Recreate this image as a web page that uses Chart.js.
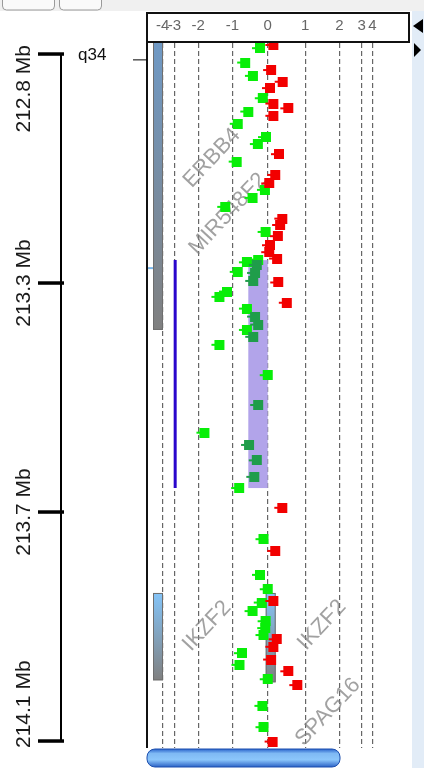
<!DOCTYPE html>
<html>
<head>
<meta charset="utf-8">
<title>chr2 q34 probe ratios</title>
<script src="https://cdn.jsdelivr.net/npm/chart.js@4.4.1/dist/chart.umd.min.js"></script>
<style>
  html, body { margin: 0; padding: 0; background: #fff; }
  #wrap { position: relative; width: 424px; height: 768px; }
</style>
</head>
<body>
<div id="wrap"><canvas id="ratioChart"></canvas></div>
<script>
// log ratio axis ticks
const ratioTicks = [-4, -3, -2, -1, 0, 1, 2, 3, 4];
// where each tick sits on the squashed display axis (compressed past +-2)
const squashKnots = [-2.92, -2.59, -1.93, -0.98, 0, 1.04, 1.99, 2.61, 2.91];

// genome position ticks (Mb)
const mbTicks = [212.84, 213.27, 213.70, 214.13];

// probes above zero (red)
const gainPos = [212.823, 212.870, 212.892, 212.904, 212.933, 212.942, 212.956, 213.028, 213.067, 213.083,
  213.149, 213.161, 213.182, 213.199, 213.212, 213.224, 213.269, 213.307, 213.692, 213.773,
  213.867, 213.939, 213.953, 213.977, 213.999, 214.025, 214.131];
const gainRatio = [0.15, 0.09, 0.40, 0.06, 0.15, 0.55, 0.15, 0.30, 0.20, 0.04,
  0.39, 0.33, 0.27, 0.06, 0.04, 0.25, 0.28, 0.51, 0.39, 0.20,
  0.15, 0.24, 0.15, 0.09, 0.55, 0.79, 0.13];

// probes below zero (green)
const lossPos = [212.829, 212.856, 212.881, 212.923, 212.948, 212.971, 212.996, 213.009, 213.042, 213.095,
  213.110, 213.127, 213.174, 213.226, 213.231, 213.249, 213.286, 213.296, 213.318, 213.358,
  213.386, 213.443, 213.551, 213.655, 213.751, 213.818, 213.845, 213.870, 213.886, 213.905,
  213.918, 213.931, 213.965, 213.987, 214.014, 214.064, 214.104];
const lossRatio = [-0.22, -0.64, -0.42, -0.14, -0.55, -0.85, -0.05, -0.28, -0.88, -0.08,
  -0.43, -1.21, -0.06, -0.27, -0.59, -0.85, -1.16, -1.38, -0.59, -0.59,
  -1.38, 0.0, -1.82, -0.81, -0.12, -0.22, 0.0, -0.17, -0.43, -0.06,
  -0.07, -0.12, -0.73, -0.80, 0.0, -0.15, -0.12];

// probes inside the called segment (dark green)
const segProbePos = [213.236, 213.251, 213.266, 213.333, 213.348, 213.371, 213.499, 213.574, 213.603, 213.634];
const segProbeRatio = [-0.31, -0.36, -0.41, -0.36, -0.27, -0.41, -0.27, -0.53, -0.31, -0.38];

// called loss segment
const segStart = 213.227;
const segEnd = 213.655;
const segMean = -0.55;
const callTrackRatio = -2.97;

// genes
const geneNames = ['ERBB4', 'IKZF2'];
const geneStart = [212.70, 213.852];
const geneEnd = [213.358, 214.016];

function squash(v) {
  const n = ratioTicks.length;
  if (v <= ratioTicks[0]) return squashKnots[0] + (v - ratioTicks[0]) * (squashKnots[1] - squashKnots[0]);
  if (v >= ratioTicks[n - 1]) return squashKnots[n - 1] + (v - ratioTicks[n - 1]) * (squashKnots[n - 1] - squashKnots[n - 2]);
  for (let i = 0; i < n - 1; i++) {
    if (v <= ratioTicks[i + 1]) {
      const t = (v - ratioTicks[i]) / (ratioTicks[i + 1] - ratioTicks[i]);
      return squashKnots[i] + t * (squashKnots[i + 1] - squashKnots[i]);
    }
  }
}

function toPoints(pos, ratio) {
  return pos.map((p, i) => ({ x: squash(ratio[i]), y: p }));
}

// square marker with a little nub on the left
function makeMarker(color) {
  const c = document.createElement('canvas');
  c.width = 18;
  c.height = 10;
  const g = c.getContext('2d');
  g.fillStyle = color;
  g.fillRect(4, 0, 10, 10);
  g.fillRect(1, 4, 3, 2);
  return c;
}

function rrect(ctx, x, y, w, h, r) {
  ctx.beginPath();
  ctx.moveTo(x + r, y);
  ctx.arcTo(x + w, y, x + w, y + h, r);
  ctx.arcTo(x + w, y + h, x, y + h, r);
  ctx.arcTo(x, y + h, x, y, r);
  ctx.arcTo(x, y, x + w, y, r);
  ctx.closePath();
}

function line(ctx, x1, y1, x2, y2) {
  ctx.beginPath();
  ctx.moveTo(x1, y1);
  ctx.lineTo(x2, y2);
  ctx.stroke();
}

function geneBar(ctx, x, w, yTop, yBot, topColor) {
  const grad = ctx.createLinearGradient(0, yTop, 0, yBot);
  grad.addColorStop(0, topColor);
  grad.addColorStop(1, '#808080');
  ctx.fillStyle = grad;
  ctx.fillRect(x, yTop, w, yBot - yTop);
  ctx.strokeStyle = '#6e6e6e';
  ctx.lineWidth = 1;
  ctx.strokeRect(x + 0.5, yTop + 0.5, w - 1, yBot - yTop - 1);
}

const decorPlugin = {
  id: 'decor',
  beforeDraw(chart) {
    const ctx = chart.ctx;
    ctx.save();
    ctx.fillStyle = '#fff';
    ctx.fillRect(0, 0, chart.width, chart.height);
    // toolbar remnants at the top
    ctx.fillStyle = '#f0f0f0';
    ctx.fillRect(0, 0, chart.width, 11);
    ctx.strokeStyle = '#9a9a9a';
    ctx.lineWidth = 1;
    rrect(ctx, 2.5, -6, 52, 16, 4); ctx.fillStyle = '#fafafa'; ctx.fill(); ctx.stroke();
    rrect(ctx, 59.5, -6, 42, 16, 4); ctx.fill(); ctx.stroke();
    // right side strip
    ctx.fillStyle = '#e2ecf7';
    ctx.fillRect(412, 11, 12, chart.height - 11);
    ctx.restore();
  },
  beforeDatasetsDraw(chart) {
    const ctx = chart.ctx;
    const xs = chart.scales.x;
    const ys = chart.scales.y;
    const area = chart.chartArea;
    ctx.save();
    ctx.beginPath();
    ctx.rect(area.left, area.top, area.right - area.left, area.bottom - area.top);
    ctx.clip();

    // segment shading
    const sx1 = xs.getPixelForValue(squash(segMean));
    const sx2 = xs.getPixelForValue(squash(0));
    const sy1 = ys.getPixelForValue(segStart);
    const sy2 = ys.getPixelForValue(segEnd);
    ctx.fillStyle = '#b2a4ea';
    ctx.fillRect(sx1, sy1, sx2 - sx1, sy2 - sy1);

    // gene track bars
    geneNames.forEach((g, i) => {
      const yTop = ys.getPixelForValue(geneStart[i]);
      const yBot = ys.getPixelForValue(geneEnd[i]);
      geneBar(ctx, area.left + 5, 10, yTop, yBot, i === 0 ? '#6c9fd4' : '#84c4f8');
      if (g === 'IKZF2') geneBar(ctx, sx2 - 2, 10, yTop, yBot + 2, '#84c4f8');
    });

    // gene labels
    const labels = [['ERBB4', 212, 158], ['MIR548F2', 228, 214], ['IKZF2', 207, 626], ['IKZF2', 322, 625], ['SPAG16', 328, 712]];
    ctx.font = '22px "Liberation Sans", Arial, sans-serif';
    ctx.fillStyle = 'rgba(130,130,130,0.75)';
    ctx.textAlign = 'center';
    ctx.textBaseline = 'middle';
    labels.forEach(([t, x, y]) => {
      ctx.save();
      ctx.translate(x, y);
      ctx.rotate(-0.82);
      ctx.fillText(t, 0, 0);
      ctx.restore();
    });
    ctx.restore();

    // light blue marker at the left edge
    ctx.save();
    ctx.strokeStyle = '#7ab6ea';
    ctx.lineWidth = 2;
    const my = ys.getPixelForValue(213.242);
    line(ctx, area.left - 1, my, area.left + 5, my);
    ctx.restore();
  },
  afterDraw(chart) {
    const ctx = chart.ctx;
    const ys = chart.scales.y;
    const area = chart.chartArea;
    ctx.save();

    // header box round the ratio labels
    ctx.strokeStyle = '#111';
    ctx.lineWidth = 2;
    ctx.strokeRect(147, 13, 262, 29);
    // left border of the plot
    line(ctx, 147, 13, 147, area.bottom);

    // arrows on the right strip
    ctx.fillStyle = '#000';
    ctx.beginPath(); ctx.moveTo(413, 26); ctx.lineTo(423, 19); ctx.lineTo(423, 33); ctx.closePath(); ctx.fill();
    ctx.beginPath(); ctx.moveTo(421, 50); ctx.lineTo(414, 43); ctx.lineTo(414, 57); ctx.closePath(); ctx.fill();

    // genome axis on the left
    const axisX = 61;
    const y0 = ys.getPixelForValue(mbTicks[0]);
    const y1 = ys.getPixelForValue(mbTicks[mbTicks.length - 1]);
    ctx.strokeStyle = '#000';
    ctx.lineWidth = 2;
    line(ctx, axisX, y0, axisX, y1);
    ctx.font = '21px "Liberation Sans", Arial, sans-serif';
    ctx.fillStyle = '#1a1a1a';
    ctx.textAlign = 'center';
    ctx.textBaseline = 'middle';
    mbTicks.forEach(v => {
      const y = ys.getPixelForValue(v);
      ctx.lineWidth = 3.5;
      line(ctx, 38, y, 64, y);
      const text = v.toFixed(1) + ' Mb';
      const half = ctx.measureText(text).width / 2;
      const cy = Math.min(Math.max(y, 45 + half), 748 - half);
      ctx.save();
      ctx.translate(24, cy);
      ctx.rotate(-Math.PI / 2);
      ctx.fillText(text, 0, 0);
      ctx.restore();
    });

    // cytoband
    ctx.font = '17px "Liberation Sans", Arial, sans-serif';
    ctx.textAlign = 'left';
    ctx.fillStyle = '#111';
    ctx.fillText('q34', 78, 55);
    ctx.lineWidth = 1;
    const by = ys.getPixelForValue(212.851);
    line(ctx, 133, by, 147, by);

    // scroll bar at the bottom
    const grad = ctx.createLinearGradient(0, 749, 0, 767);
    grad.addColorStop(0, '#2a64cc');
    grad.addColorStop(0.25, '#7fb9f4');
    grad.addColorStop(0.6, '#8cc6fb');
    grad.addColorStop(1, '#2b62c6');
    rrect(ctx, 147, 749, 193, 18, 8);
    ctx.fillStyle = grad;
    ctx.fill();
    ctx.strokeStyle = '#1d4fae';
    ctx.lineWidth = 1;
    ctx.stroke();
    ctx.restore();
  }
};

const ctx = document.getElementById('ratioChart').getContext('2d');
new Chart(ctx, {
  type: 'scatter',
  data: {
    datasets: [
      {
        label: 'Gain',
        data: toPoints(gainPos, gainRatio),
        pointStyle: makeMarker('#f20000'),
        pointRadius: 5
      },
      {
        label: 'Segment probes',
        data: toPoints(segProbePos, segProbeRatio),
        pointStyle: makeMarker('#1f9d4a'),
        pointRadius: 5
      },
      {
        label: 'Loss',
        data: toPoints(lossPos, lossRatio),
        pointStyle: makeMarker('#08ee08'),
        pointRadius: 5
      },
      {
        label: 'Call',
        data: [{ x: squash(callTrackRatio), y: segStart }, { x: squash(callTrackRatio), y: segEnd }],
        showLine: true,
        borderColor: '#2a06cc',
        borderWidth: 3,
        pointRadius: 0
      }
    ]
  },
  options: {
    responsive: true,
    maintainAspectRatio: false,
    animation: false,
    layout: { padding: { left: 148, right: 13, top: 13, bottom: 20 } },
    plugins: {
      legend: { display: false },
      tooltip: { enabled: false }
    },
    scales: {
      x: {
        type: 'linear',
        position: 'top',
        min: -3.325,
        max: 3.98,
        afterBuildTicks: scale => { scale.ticks = ratioTicks.map(v => ({ value: squash(v) })); },
        afterFit: scale => { scale.height = 30; },
        ticks: {
          autoSkip: false,
          maxRotation: 0,
          padding: 8,
          color: '#666',
          font: { size: 15, family: '"Liberation Sans", Arial, sans-serif' },
          callback: (v, i) => String(ratioTicks[i])
        },
        grid: { color: '#666', lineWidth: 1.2, drawTicks: false },
        border: { display: false, dash: [5, 3] }
      },
      y: {
        type: 'linear',
        reverse: true,
        min: 212.8193,
        max: 214.1431,
        display: false
      }
    }
  },
  plugins: [decorPlugin]
});
</script>
</body>
</html>
